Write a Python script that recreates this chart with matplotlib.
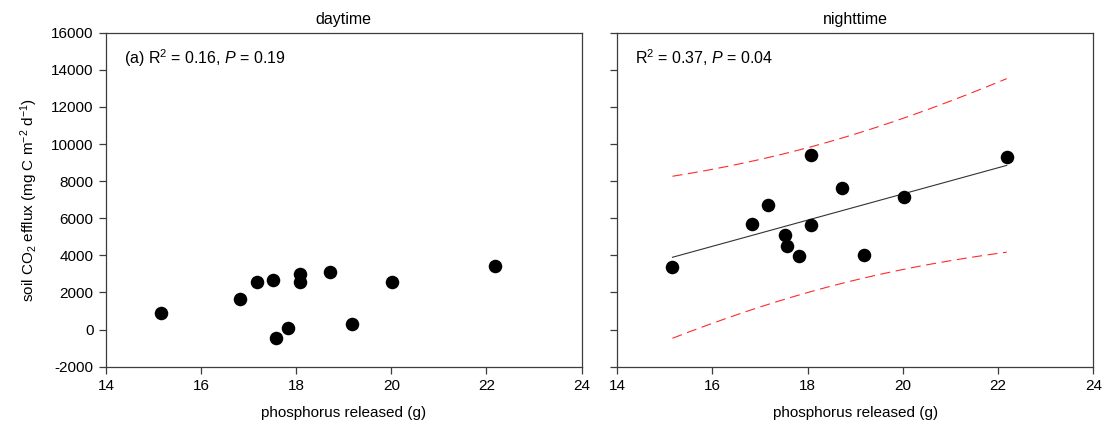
import numpy as np
import matplotlib
matplotlib.use("Agg")
import matplotlib.pyplot as plt

plt.rcParams['font.family'] = ['Liberation Sans', 'DejaVu Sans']
plt.rcParams['mathtext.fontset'] = 'custom'
plt.rcParams['mathtext.rm'] = 'Liberation Sans'
plt.rcParams['mathtext.it'] = 'Liberation Sans:italic'
plt.rcParams['mathtext.bf'] = 'Liberation Sans:bold'
plt.rcParams['axes.unicode_minus'] = False

# phosphorus released (g) for each plot
phosphorus = [15.16, 16.82, 17.17, 17.52, 17.57, 17.82, 18.07, 18.07, 18.72, 19.18, 20.02, 22.18]
# soil CO2 efflux (mg C m-2 d-1)
day_efflux = [900, 1650, 2550, 2690, -470, 70, 2990, 2580, 3120, 300, 2580, 3410]
night_efflux = [3370, 5700, 6700, 5110, 4490, 3960, 9390, 5640, 7610, 4020, 7130, 9300]

day_stats = "(a) R$^2$ = 0.16, $P$ = 0.19"
night_stats = "R$^2$ = 0.37, $P$ = 0.04"
panel_titles = ["daytime", "nighttime"]
x_ticks = [14, 16, 18, 20, 22, 24]
y_ticks = [-2000, 0, 2000, 4000, 6000, 8000, 10000, 12000, 14000, 16000]

fig = plt.figure(figsize=(11.1, 4.37), dpi=100)
ax_day = fig.add_axes([0.0955, 0.1609, 0.4284, 0.7643])
ax_night = fig.add_axes([0.5561, 0.1609, 0.4289, 0.7643])

spine_col = "#3c3c3c"
for ax, title in zip((ax_day, ax_night), panel_titles):
    ax.set_xlim(14, 24)
    ax.set_ylim(-2000, 16000)
    ax.set_xticks(x_ticks)
    ax.set_yticks(y_ticks)
    ax.tick_params(direction="out", length=5, width=0.9, color=spine_col,
                   labelsize=11, top=False, right=False, pad=4)
    for s in ax.spines.values():
        s.set_color(spine_col)
        s.set_linewidth(0.9)
    ax.set_title(title, fontsize=11.5, pad=6)
    ax.set_xlabel("phosphorus released (g)", fontsize=11, labelpad=9)

ax_night.tick_params(labelleft=False)
ax_day.set_ylabel("soil CO$_2$ efflux (mg C m$^{-2}$ d$^{-1}$)", fontsize=11, labelpad=8)

x = np.asarray(phosphorus)
ax_day.scatter(x, day_efflux, s=95, color="black", zorder=3, linewidths=0)
ax_night.scatter(x, night_efflux, s=95, color="black", zorder=3, linewidths=0)

# least-squares fit with 95% prediction band for nighttime efflux
yn = np.asarray(night_efflux, dtype=float)
slope, intercept = np.polyfit(x, yn, 1)
xs = np.linspace(x.min(), x.max(), 200)
fit = intercept + slope * xs
n = len(x)
resid = yn - (intercept + slope * x)
s_err = np.sqrt(np.sum(resid ** 2) / (n - 2))
t_val = 2.228  # t(0.975, df=10)
half = t_val * s_err * np.sqrt(1 + 1 / n + (xs - x.mean()) ** 2 / np.sum((x - x.mean()) ** 2))
ax_night.plot(xs, fit, color="#333333", lw=0.8, zorder=2)
ax_night.plot(xs, fit + half, color="#ff2a2a", lw=0.8, dashes=(9, 5), zorder=2)
ax_night.plot(xs, fit - half, color="#ff2a2a", lw=0.8, dashes=(9, 5), zorder=2)

ax_day.text(0.037, 0.955, day_stats, transform=ax_day.transAxes, fontsize=11.5, va="top", ha="left")
ax_night.text(0.037, 0.955, night_stats, transform=ax_night.transAxes, fontsize=11.5, va="top", ha="left")

fig.savefig("out.png", dpi=100)
